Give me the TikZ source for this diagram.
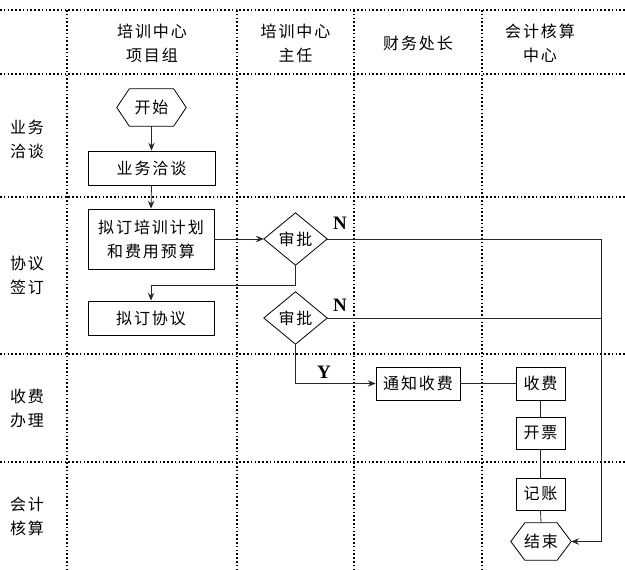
\documentclass[tikz,border=0pt]{standalone}
\usepackage{fontspec}
\setmainfont{Liberation Serif}
\newfontfamily\cjk[LetterSpace=12]{Noto Sans CJK SC}
\usetikzlibrary{arrows.meta}
\begin{document}
\begin{tikzpicture}[x=1pt,y=-1pt,
  grid/.style={line width=1.6pt,dash pattern=on 1.6pt off 2.2pt,black},
  txt/.style={font=\cjk\fontsize{16}{24}\selectfont,align=center,inner sep=0pt},
  box/.style={txt,draw,line width=0.8pt,minimum height=#1},
  ghost/.style={txt,draw=none},
  shp/.style={line width=0.8pt},
  conn/.style={line width=0.8pt,black!85},
  arr/.style={conn,-{Stealth[length=8pt,width=6.5pt,inset=3pt]}},
  lab/.style={font=\bfseries\fontsize{19}{19}\selectfont,inner sep=0pt}]
\useasboundingbox (0,0) rectangle (625,570);
% grid
\foreach \yy in {10,74,197,354,462} \draw[grid] (0,\yy) -- (625,\yy);
\foreach \xx in {67,237,354,482} \draw[grid] (\xx,10) -- (\xx,570);
% headers
\node[txt] (h1) at (152,43) {培训中心\\项目组};
\node[txt] (h2) at (295.5,43) {培训中心\\主任};
\node[txt] (h3) at (418,43) {财务处长};
\node[txt] (h4) at (540,43) {会计核算\\中心};
% row labels
\node[txt] (r1) at (27,139) {业务\\洽谈};
\node[txt] (r2) at (27,275) {协议\\签订};
\node[txt] (r3) at (27,408) {收费\\办理};
\node[txt] (r4) at (27,516) {会计\\核算};
% start hexagon
\node[ghost,minimum width=69pt,minimum height=37pt] (start) at (151.5,107.5) {开始};
\draw[shp] ([xshift=12.5pt]start.north west) -- ([xshift=-12.5pt]start.north east) -- (start.east)
  -- ([xshift=-12.5pt]start.south east) -- ([xshift=12.5pt]start.south west) -- (start.west) -- cycle;
% boxes
\node[box=34pt,minimum width=127pt] (biz) at (151.5,168) {业务洽谈};
\node[box=60pt,minimum width=126pt] (plan) at (151,239) {拟订培训计划\\和费用预算};
\node[box=34pt,minimum width=126pt] (agree) at (151,318) {拟订协议};
\node[box=33pt,minimum width=84pt] (notify) at (418,383.5) {通知收费};
\node[box=33pt,minimum width=49pt] (fee) at (540.5,383.5) {收费};
\node[box=32pt,minimum width=49pt] (inv) at (540.5,433) {开票};
\node[box=32pt,minimum width=49pt] (rec) at (540.5,494) {记账};
% end hexagon
\node[ghost,minimum width=60pt,minimum height=37pt] (end) at (541,541.5) {结束};
\draw[shp] ([xshift=14pt]end.north west) -- ([xshift=-14pt]end.north east) -- (end.east)
  -- ([xshift=-14pt]end.south east) -- ([xshift=14pt]end.south west) -- (end.west) -- cycle;
% diamonds
\node[ghost,minimum width=63pt,minimum height=52pt] (d1) at (295.5,239) {审批};
\draw[shp] (d1.north) -- (d1.east) -- (d1.south) -- (d1.west) -- cycle;
\node[ghost,minimum width=63pt,minimum height=52pt] (d2) at (295.5,318) {审批};
\draw[shp] (d2.north) -- (d2.east) -- (d2.south) -- (d2.west) -- cycle;
% connectors
\coordinate (c1) at (601,239);
\coordinate (c2) at (601,318);
\draw[arr] (start.south) -- (biz.north);
\draw[arr] (biz.south) -- (plan.north);
\draw[arr] (plan.east) -- (d1.west);
\draw[arr] (d1.south) |- (151,285) -- (agree.north);
\draw[arr] (d1.east) -- (c1) |- (end.east);
\draw[conn] (d2.east) -- (c2);
\draw[arr] (d2.south) |- (notify.west);
\draw[conn] (notify.east) -- (fee.west);
\draw[conn] (fee.south) -- (inv.north);
\draw[conn] (inv.south) -- (rec.north);
\draw[conn] (rec.south) -- (end.north);
% labels
\node[lab] (n1) at (340,223) {N};
\node[lab] (n2) at (340,305) {N};
\node[lab] (y1) at (324,372) {Y};
\end{tikzpicture}
\end{document}
